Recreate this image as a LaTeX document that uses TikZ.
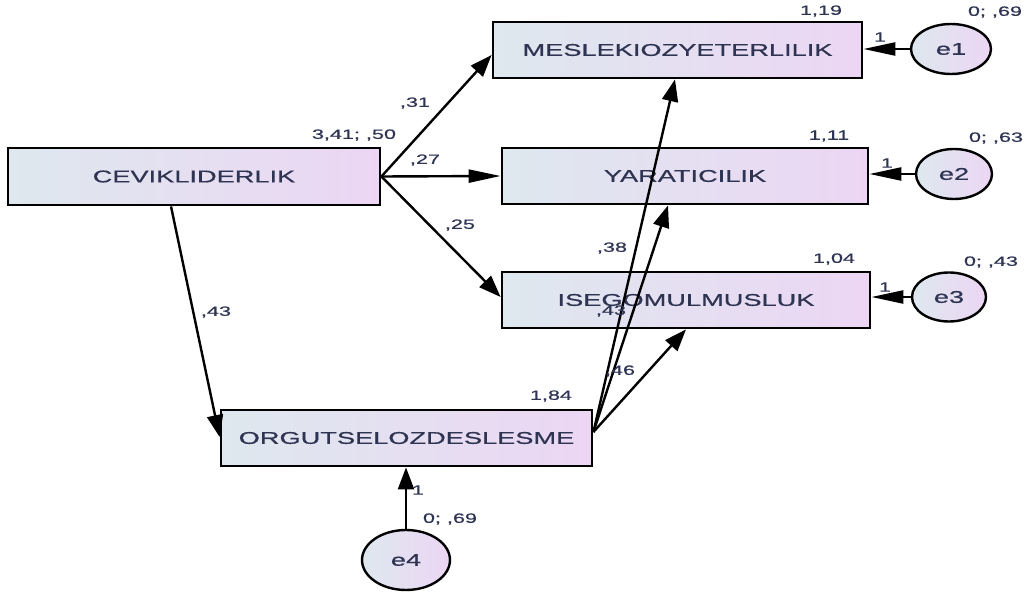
\documentclass[tikz,border=0pt]{standalone}
\usepackage{fontspec}
\setmainfont{Liberation Sans}[FakeStretch=1.6,FakeBold=0.6]
\usetikzlibrary{arrows.meta,shapes.geometric,calc}
\definecolor{txtblue}{RGB}{46,52,82}
\definecolor{boxleft}{RGB}{222,232,238}
\definecolor{boxright}{RGB}{236,214,244}

\begin{document}
\begin{tikzpicture}[x=1pt,y=-1pt,
		var/.style={draw,rectangle,line width=2.8pt,left color=boxleft,right color=boxright,text=txtblue,font=\fontsize{17}{19}\selectfont,inner sep=0pt},
		err/.style={draw,ellipse,line width=2.4pt,left color=boxleft,right color=boxright,text=txtblue,font=\fontsize{17}{19}\selectfont,inner sep=0pt},
		lbl/.style={text=txtblue,font=\fontsize{13.5}{15}\selectfont,inner sep=0pt},
		reg/.style={line width=2.4pt,-{Triangle[length=22pt,width=16pt]}},
		hreg/.style={line width=2.4pt,-{Triangle[length=32pt,width=13pt]}}]
			\path[use as bounding box,fill=white] (0,0) rectangle (1026,593);

			\node[var,minimum width=372,minimum height=57] (cevik)  at (194,176.5) {CEVIKLIDERLIK};
			\node[var,minimum width=369,minimum height=56] (meslek) at (677.5,50)  {MESLEKIOZYETERLILIK};
			\node[var,minimum width=366,minimum height=56] (yarat)  at (685,176)   {YARATICILIK};
			\node[var,minimum width=368,minimum height=56] (iseg)   at (686,300)   {ISEGOMULMUSLUK};
			\node[var,minimum width=371,minimum height=56] (orgut)  at (406.5,438) {ORGUTSELOZDESLESME};

			\node[err,minimum width=80,minimum height=50] (e1) at (951,49)  {e1};
			\node[err,minimum width=76,minimum height=50] (e2) at (954,174) {e2};
			\node[err,minimum width=74,minimum height=49] (e3) at (949,297) {e3};
			\node[err,minimum width=88,minimum height=60] (e4) at (406,560) {e4};

			% paths
			\draw[reg]  (cevik.east) -- ($(meslek.west)+(0,5)$);
			\draw[hreg] (cevik.east) -- (yarat.west);
			\draw[reg]  (cevik.east) -- ($(iseg.west)+(0,-3)$);
			\draw[reg]  ($(cevik.south)+(-23,0)$) -- ($(orgut.west)+(0,-1)$);
			\coordinate (o) at ($(orgut.east)+(0,-6)$);
			\draw[reg] (o) -- ($(meslek.south)+(-2.5,0)$);
			\draw[reg] (o) -- ($(yarat.south)+(-17,0)$);
			\draw[reg] (o) -- (iseg.south);

			% error terms
			\foreach \e/\v in {e1/meslek, e2/yarat, e3/iseg}
			{	\draw[hreg] (\e.west) -- (\e.west -| \v.east);
			}
			\draw[reg] (e4.north) -- (e4.north |- orgut.south);

			% estimates
			\foreach \px/\py/\w [count=\i] in {821/11/{1,19}, 829/136/{1,11}, 834/259/{1,04}, 354/135/{3,41; ,50}, 551/396/{1,84},
				995/12/{0; ,69}, 996/138/{0; ,63}, 991/262/{0; ,43}, 450/519/{0; ,69},
				880/37/1, 887/163/1, 885/287/1, 418/490/1,
				415/103/{,31}, 425/160/{,27}, 460/225/{,25}, 216/312/{,43}, 612/248/{,38}, 611/311/{,43}, 620/371/{,46}}
			{	\node[lbl] (w\i) at (\px,\py) {\w};
			}
\end{tikzpicture}
\end{document}
